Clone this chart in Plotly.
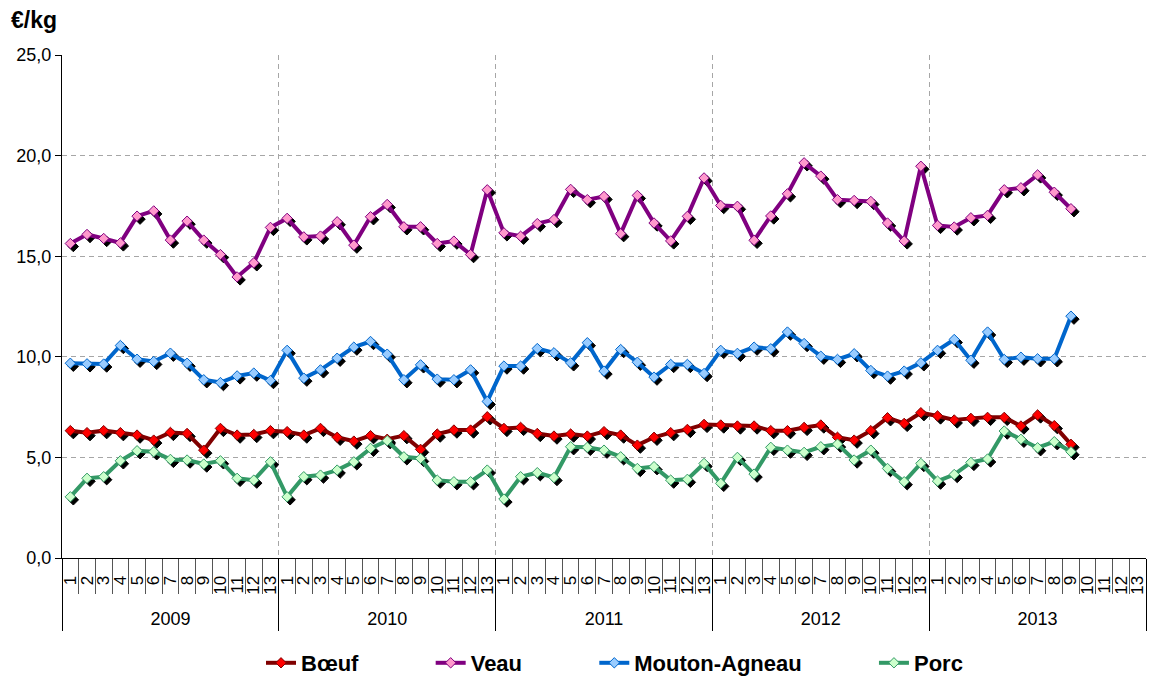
import plotly.graph_objects as go

years = ["2009", "2010", "2011", "2012", "2013"]
periods = [str(i) for i in range(1, 14)]

boeuf = [6.33, 6.23, 6.33, 6.23, 6.11, 5.86, 6.24, 6.19, 5.36, 6.44, 6.11, 6.14, 6.33,
         6.28, 6.11, 6.44, 6.00, 5.81, 6.08, 5.90, 6.08, 5.40, 6.16, 6.36, 6.36, 7.02,
         6.44, 6.49, 6.19, 6.06, 6.16, 6.06, 6.28, 6.11, 5.61, 6.00, 6.23, 6.39, 6.64,
         6.61, 6.56, 6.56, 6.33, 6.33, 6.49, 6.61, 6.00, 5.86, 6.33, 6.97, 6.69, 7.22,
         7.06, 6.86, 6.94, 6.99, 6.99, 6.56, 7.11, 6.58, 5.65]
veau = [15.63, 16.08, 15.88, 15.66, 16.99, 17.25, 15.80, 16.74, 15.80, 15.08, 13.97, 14.67, 16.43,
        16.88, 15.96, 16.00, 16.71, 15.55, 16.96, 17.57, 16.46, 16.46, 15.63, 15.75, 15.08, 18.30,
        16.16, 15.99, 16.62, 16.82, 18.32, 17.81, 17.97, 16.12, 18.02, 16.65, 15.76, 16.98, 18.89,
        17.52, 17.48, 15.79, 17.00, 18.10, 19.64, 18.98, 17.81, 17.77, 17.72, 16.65, 15.76, 19.47,
        16.53, 16.45, 16.91, 17.03, 18.30, 18.40, 19.04, 18.18, 17.36]
mouton = [9.68, 9.65, 9.64, 10.56, 9.88, 9.77, 10.18, 9.68, 8.86, 8.72, 9.05, 9.19, 8.82,
          10.32, 8.94, 9.35, 9.93, 10.48, 10.76, 10.13, 8.86, 9.60, 8.89, 8.86, 9.35, 7.78,
          9.54, 9.54, 10.41, 10.20, 9.70, 10.70, 9.29, 10.36, 9.73, 8.99, 9.62, 9.62, 9.17,
          10.32, 10.17, 10.48, 10.40, 11.23, 10.66, 10.03, 9.87, 10.15, 9.32, 9.04, 9.29, 9.70,
          10.32, 10.86, 9.83, 11.23, 9.87, 9.98, 9.90, 9.90, 12.02]
porc = [3.04, 3.96, 4.04, 4.83, 5.33, 5.28, 4.90, 4.87, 4.67, 4.83, 3.96, 3.87, 4.78,
        3.04, 4.04, 4.12, 4.37, 4.78, 5.45, 5.83, 5.03, 4.95, 3.87, 3.79, 3.79, 4.37,
        2.93, 4.04, 4.24, 4.00, 5.53, 5.50, 5.36, 5.03, 4.45, 4.54, 3.87, 3.91, 4.70,
        3.71, 5.00, 4.17, 5.50, 5.36, 5.25, 5.53, 5.66, 4.87, 5.36, 4.45, 3.79, 4.70,
        3.82, 4.15, 4.75, 4.92, 6.31, 5.90, 5.48, 5.78, 5.28]

series = [
    ("Bœuf", boeuf, "#800000", "#FF0000"),
    ("Veau", veau, "#800080", "#FF99CC"),
    ("Mouton-Agneau", mouton, "#0066CC", "#99CCFF"),
    ("Porc", porc, "#339966", "#CCFFCC"),
]

cats = [f"{y}-{p}" for y in years for p in periods]
cat_text = [p for y in years for p in periods]
ncat = len(cats)
nper = len(periods)

W, H = 1149, 680
ML, MR, MT, MB = 62, 3, 55, 122
pw = W - ML - MR
ph = H - MT - MB
ymax = 25
sx = 3 * ncat / pw      # marker shadow shift (3px) in category units
sy = 3 * ymax / ph      # marker shadow shift (3px) in value units

FONT = "Liberation Sans, Arial, sans-serif"
PAD = "\u00a0" * 11

fig = go.Figure()
# all categories on the main (visible) axis
fig.add_trace(go.Scatter(x=cats, y=[None] * ncat, mode="lines",
                         showlegend=False, hoverinfo="skip"))
# empty traces for the helper axes (grid/separators, year labels)
fig.add_trace(go.Scatter(x=[], y=[], xaxis="x4", yaxis="y", showlegend=False, hoverinfo="skip"))
fig.add_trace(go.Scatter(x=[], y=[], xaxis="x5", yaxis="y", showlegend=False, hoverinfo="skip"))

# marker shadows
for name, vals, lc, mc in series:
    n = len(vals)
    fig.add_trace(go.Scatter(
        x=cats[:n], y=vals, xaxis="x2", yaxis="y2",
        mode="markers", showlegend=False, hoverinfo="skip",
        marker=dict(symbol="diamond", size=8, color="black", line=dict(width=1, color="black"))))

for i, (name, vals, lc, mc) in enumerate(series):
    n = len(vals)
    fig.add_trace(go.Scatter(
        x=cats[:n], y=vals, xaxis="x3", yaxis="y3",
        mode="lines+markers", name="<b>" + name + "</b>" + (PAD if i < len(series) - 1 else ""),
        line=dict(color=lc, width=4),
        marker=dict(symbol="diamond", size=8, color=mc, line=dict(width=1, color=lc))))

bnd_year = [i * nper - 0.5 for i in range(0, len(years) + 1)]
bnd_all = [i - 0.5 for i in range(ncat + 1)]
year_mid = [i * nper + (nper - 1) / 2 for i in range(len(years))]

fig.update_layout(
    width=W, height=H,
    margin=dict(l=ML, r=MR, t=MT, b=MB, autoexpand=False),
    paper_bgcolor="white", plot_bgcolor="white",
    separators=", ",
    font=dict(family=FONT, size=18, color="black"),
    title=dict(text="<b>€/kg</b>", x=11 / W, xanchor="left", xref="container",
               y=1 - 20 / H, yanchor="middle", yref="container",
               font=dict(family=FONT, size=23, color="black")),
    xaxis=dict(type="category", categoryorder="array", categoryarray=cats,
               range=[-0.5, ncat - 0.5], showline=True, linecolor="black", linewidth=1,
               ticks="outside", ticklen=10, tickcolor="rgba(0,0,0,0)",
               showgrid=False, tickmode="array", tickvals=cats, ticktext=cat_text,
               tickangle=-90, tickfont=dict(family=FONT, size=17, color="black"),
               automargin=False),
    xaxis2=dict(type="category", categoryorder="array", categoryarray=cats, overlaying="x",
                range=[-0.5 - sx, ncat - 0.5 - sx], visible=False),
    xaxis3=dict(type="category", categoryorder="array", categoryarray=cats, overlaying="x",
                range=[-0.5, ncat - 0.5], visible=False),
    xaxis4=dict(type="linear", overlaying="x", anchor="y", side="bottom",
                range=[-0.5, ncat - 0.5], tickmode="array", tickvals=bnd_year,
                showticklabels=False, showgrid=True, gridcolor="#A6A6A6", gridwidth=1,
                griddash="5px,4px", ticks="outside", ticklen=72, tickcolor="black",
                showline=False, zeroline=False, automargin=False,
                minor=dict(tickmode="array", tickvals=bnd_all, ticks="outside", ticklen=35,
                           tickcolor="#555555", showgrid=False)),
    xaxis5=dict(type="linear", overlaying="x", anchor="y", side="bottom",
                range=[-0.5, ncat - 0.5], tickmode="array", tickvals=year_mid, ticktext=years,
                ticks="outside", ticklen=44, tickcolor="rgba(0,0,0,0)", showgrid=False,
                showline=False, zeroline=False, automargin=False,
                tickfont=dict(family=FONT, size=18, color="black")),
    yaxis=dict(range=[0, ymax], dtick=5, tickformat=".1f", showline=True, linecolor="black",
               linewidth=1, ticks="outside", ticklen=6, tickcolor="black",
               showgrid=True, gridcolor="#A6A6A6", gridwidth=1, griddash="5px,4px",
               zeroline=False, automargin=False,
               tickfont=dict(family=FONT, size=18, color="black")),
    yaxis2=dict(overlaying="y", range=[sy, ymax + sy], visible=False),
    yaxis3=dict(overlaying="y", range=[0, ymax], visible=False),
    legend=dict(orientation="h", x=(261 - ML) / pw, xanchor="left",
                y=-(663 - (H - MB)) / ph, yanchor="middle",
                font=dict(family=FONT, size=22, color="black")),
    showlegend=True,
)

fig.write_html("out.html", config={"displayModeBar": False},
               post_script="document.body.style.margin='0px';document.body.style.overflow='hidden';")
